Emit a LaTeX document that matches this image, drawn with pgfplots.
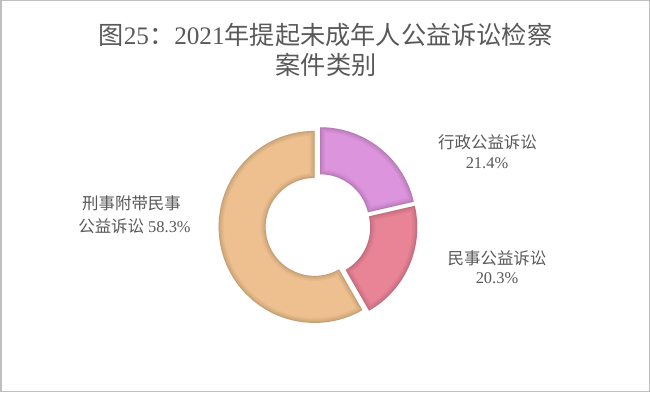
\documentclass[border=0pt]{standalone}
\usepackage{fontspec}
\setmainfont{Liberation Serif}
\newfontfamily\cjk{Noto Sans CJK SC}
\usepackage{pgfplots}
\usepackage{pgfplotstable}
\pgfplotsset{compat=1.18}

\definecolor{cA}{RGB}{220,148,220}
\definecolor{cB}{RGB}{233,131,150}
\definecolor{cC}{RGB}{238,192,143}
\definecolor{txt}{RGB}{89,89,89}
\definecolor{frame}{RGB}{191,191,191}

\pgfplotstableread{
name value
xingzheng 21.4
minshi 20.3
xingshi 58.3
}\piedata

\newcommand\slicepath[4]{%
 plot[domain=#1:#2, samples=70, variable=\t] ({\cx+#3+\Rout*cos(\t)},{\cy+#4+\Rout*sin(\t)})
 -- plot[domain=#2:#1, samples=50, variable=\t] ({\cx+#3+\Rin*cos(\t)},{\cy+#4+\Rin*sin(\t)}) -- cycle}
\newcommand\slice[5]{%
 \fill[#5] \slicepath{#1}{#2}{#3}{#4};
 \begin{scope}
 \clip \slicepath{#1}{#2}{#3}{#4};
 \draw[#5!50!black, opacity=0.07, line width=10bp, line join=round] \slicepath{#1}{#2}{#3}{#4};
 \draw[#5!50!black, opacity=0.08, line width=7bp, line join=round] \slicepath{#1}{#2}{#3}{#4};
 \draw[#5!50!black, opacity=0.10, line width=4bp, line join=round] \slicepath{#1}{#2}{#3}{#4};
 \draw[#5!50!black, opacity=0.12, line width=1.8bp, line join=round] \slicepath{#1}{#2}{#3}{#4};
 \end{scope}}

\begin{document}
\begin{tikzpicture}[x=1bp,y=1bp]
\pgfplotstablegetelem{0}{value}\of\piedata \pgfmathsetmacro\va{\pgfplotsretval}
\pgfplotstablegetelem{1}{value}\of\piedata \pgfmathsetmacro\vb{\pgfplotsretval}
\pgfplotstablegetelem{2}{value}\of\piedata \pgfmathsetmacro\vc{\pgfplotsretval}
\pgfmathsetmacro\total{\va+\vb+\vc}
\pgfmathsetmacro\aA{90}
\pgfmathsetmacro\aB{\aA-\va/\total*360}
\pgfmathsetmacro\aC{\aB-\vb/\total*360}
\pgfmathsetmacro\aD{\aC-\vc/\total*360}
\def\cx{318}\def\cy{166}\def\Rout{96}\def\Rin{49}\def\ex{3.5}
\pgfmathsetmacro\dxA{\ex*cos((\aA+\aB)/2)}\pgfmathsetmacro\dyA{\ex*sin((\aA+\aB)/2)}
\pgfmathsetmacro\dxB{\ex*cos((\aB+\aC)/2)}\pgfmathsetmacro\dyB{\ex*sin((\aB+\aC)/2)}
\pgfmathsetmacro\dxC{\ex*cos((\aC+\aD)/2)}\pgfmathsetmacro\dyC{\ex*sin((\aC+\aD)/2)}
\begin{axis}[at={(0,0)}, anchor=south west, width=650bp, height=392bp, scale only axis,
  xmin=0, xmax=650, ymin=0, ymax=392, hide axis, clip=false]
\fill[white] (axis cs:0,0) rectangle (axis cs:650,392);
\draw[frame, line width=1.5bp] (axis cs:0.75,0.75) rectangle (axis cs:649.25,391.25);
\slice{\aA}{\aB}{\dxA}{\dyA}{cA}
\slice{\aB}{\aC}{\dxB}{\dyB}{cB}
\slice{\aC}{\aD}{\dxC}{\dyC}{cC}
\node[txt, font=\fontsize{25.3}{28}\selectfont] at (axis cs:325.5,357) {{\cjk 图}25{\cjk ：}2021{\cjk 年提起未成年人公益诉讼检察}};
\node[txt, font=\fontsize{25.3}{28}\selectfont\cjk] at (axis cs:326,327) {案件类别};
\node[txt, font=\fontsize{16.5}{18}\selectfont\cjk] at (axis cs:487.5,250) {行政公益诉讼};
\node[txt, font=\fontsize{16.5}{18}\selectfont] at (axis cs:487,229) {21.4\%};
\node[txt, font=\fontsize{16.5}{18}\selectfont\cjk] at (axis cs:497,134) {民事公益诉讼};
\node[txt, font=\fontsize{16.5}{18}\selectfont] at (axis cs:497,114) {20.3\%};
\node[txt, font=\fontsize{16.5}{18}\selectfont\cjk] at (axis cs:131.5,189) {刑事附带民事};
\node[txt, font=\fontsize{16.5}{18}\selectfont] at (axis cs:134.5,166) {{\cjk 公益诉讼} 58.3\%};
\end{axis}
\end{tikzpicture}
\end{document}
